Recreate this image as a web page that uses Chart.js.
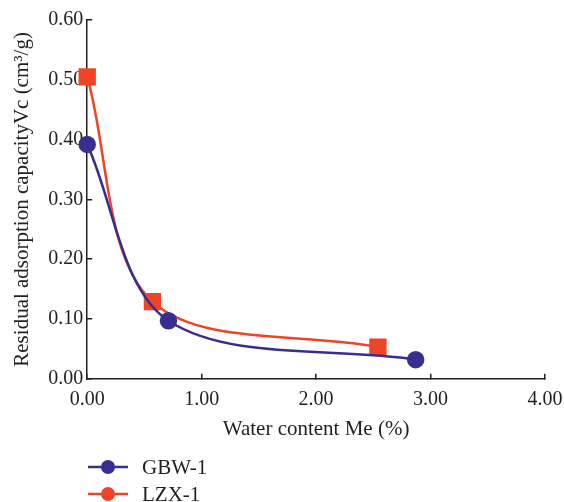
<!DOCTYPE html>
<html>
<head>
<meta charset="utf-8">
<script src="https://cdn.jsdelivr.net/npm/chart.js@4/dist/chart.umd.min.js"></script>
<style>
    html, body { margin: 0; padding: 0; background: #ffffff; }
    #wrap { width: 564px; height: 502px; }
</style>
</head>
<body>
<div id="wrap"><canvas id="vcChart"></canvas></div>
<script>
// Water content (%) and residual adsorption capacity (cm3/g) per sample
const gbwWater = [0.00, 0.71, 2.87];
const gbwVc = [0.392, 0.097, 0.032];
const lzxWater = [0.00, 0.57, 2.54];
const lzxVc = [0.505, 0.129, 0.053];
const seriesNames = ['GBW-1', 'LZX-1'];
const xTicks = [0, 1, 2, 3, 4];
const yTicks = [0, 0.1, 0.2, 0.3, 0.4, 0.5, 0.6];

const blue = '#372f8f';
const red = '#ef4526';
const ink = '#231f20';
const serif = "'Liberation Serif', 'DejaVu Serif', serif";

function toPoints(xs, ys) {
    return xs.map(function (x, i) { return { x: x, y: ys[i] }; });
}

// legend drawn as a vertical list under the x axis title
const stackedLegend = {
    id: 'stackedLegend',
    afterDraw: function (chart) {
        const ctx = chart.ctx;
        const left = 88, top = 467, gap = 27;
        ctx.save();
        chart.data.datasets.forEach(function (ds, i) {
            const y = top + i * gap;
            ctx.strokeStyle = ds.borderColor;
            ctx.lineWidth = 2.5;
            ctx.beginPath();
            ctx.moveTo(left, y);
            ctx.lineTo(left + 40, y);
            ctx.stroke();
            ctx.fillStyle = ds.borderColor;
            ctx.beginPath();
            ctx.arc(left + 20, y, 7, 0, Math.PI * 2);
            ctx.fill();
            ctx.fillStyle = ink;
            ctx.font = '21px ' + serif;
            ctx.textBaseline = 'middle';
            ctx.fillText(ds.label, left + 54, y + 1);
        });
        ctx.restore();
    }
};

var ctx = document.getElementById('vcChart').getContext('2d');
var vcChart = new Chart(ctx, {
    type: 'line',
    data: {
        datasets: [{
            label: seriesNames[0],
            data: toPoints(gbwWater, gbwVc),
            borderColor: blue,
            backgroundColor: blue,
            borderWidth: 2.5,
            pointStyle: 'circle',
            pointRadius: 7.5,
            pointHoverRadius: 7.5,
            tension: 0.33,
            clip: false
        }, {
            label: seriesNames[1],
            data: toPoints(lzxWater, lzxVc),
            borderColor: red,
            backgroundColor: red,
            borderWidth: 2.5,
            pointStyle: 'rect',
            pointRadius: 10.5,
            pointHoverRadius: 10.5,
            tension: 0.33,
            clip: false
        }]
    },
    options: {
        responsive: true,
        maintainAspectRatio: false,
        animation: false,
        layout: {
            padding: { left: 10, right: 0, top: 0, bottom: 60 }
        },
        scales: {
            x: {
                type: 'linear',
                min: 0,
                max: 4,
                afterBuildTicks: function (axis) {
                    axis.ticks = xTicks.map(function (v) { return { value: v }; });
                },
                // let the last tick label run up to the canvas edge
                afterFit: function (axis) {
                    axis.paddingRight = 19;
                },
                ticks: {
                    color: ink,
                    font: { family: serif, size: 20 },
                    padding: 14,
                    maxRotation: 0,
                    callback: function (v) { return v.toFixed(2); }
                },
                grid: {
                    drawOnChartArea: false,
                    color: ink,
                    lineWidth: 1.5,
                    tickLength: -5
                },
                border: { color: ink, width: 1.5 },
                title: {
                    display: true,
                    text: 'Water content Me (%)',
                    color: ink,
                    font: { family: serif, size: 21 },
                    padding: { top: -9, bottom: 0 }
                }
            },
            y: {
                min: 0,
                max: 0.6,
                afterBuildTicks: function (axis) {
                    axis.ticks = yTicks.map(function (v) { return { value: v }; });
                },
                afterFit: function (axis) {
                    axis.paddingTop = 20;
                },
                ticks: {
                    color: ink,
                    font: { family: serif, size: 20 },
                    padding: 9,
                    callback: function (v) { return v.toFixed(2); }
                },
                grid: {
                    drawOnChartArea: false,
                    color: ink,
                    lineWidth: 1.5,
                    tickLength: -5
                },
                border: { color: ink, width: 1.5 },
                title: {
                    display: true,
                    text: 'Residual adsorption capacityVc (cm³/g)',
                    color: ink,
                    font: { family: serif, size: 21 },
                    padding: { top: 0, bottom: 4 }
                }
            }
        },
        plugins: {
            legend: { display: false },
            tooltip: { enabled: false }
        }
    },
    plugins: [stackedLegend]
});
</script>
</body>
</html>
